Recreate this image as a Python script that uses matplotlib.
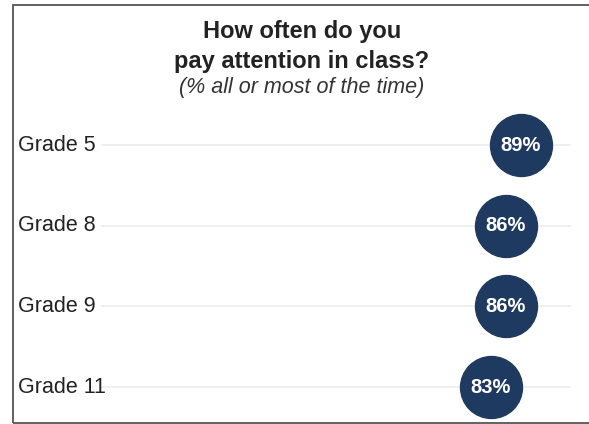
import matplotlib
matplotlib.use('Agg')
import matplotlib.pyplot as plt
from matplotlib.patches import Rectangle
from matplotlib.transforms import blended_transform_factory

plt.rcParams['font.family'] = ['Liberation Sans', 'DejaVu Sans']

# --- data ---
grades = ['Grade 5', 'Grade 8', 'Grade 9', 'Grade 11']
pct = [89, 86, 86, 83]

NAVY = '#1f3a60'
W, H = 589, 424
fig = plt.figure(figsize=(W / 100, H / 100), dpi=100)

# outer frame (right edge cut off in the reference)
fig.patches.append(Rectangle((13 / W, 1 / H), 1.2, (419 - 1) / H, transform=fig.transFigure,
                             fill=False, edgecolor='#555555', linewidth=1.3))

# axes: 0..100 maps to x px 76..576
ax = fig.add_axes([76 / W, 0, 500 / W, 324 / H])
ax.set_xlim(0, 100)
ax.set_ylim(3.458, -0.558)
ax.axis('off')

ys = list(range(len(grades)))
ax.hlines(ys, 5, 99, color='#eeeeee', linewidth=1.2, zorder=1)
ax.scatter(pct, ys, s=1990, color=NAVY, zorder=3, clip_on=False)
for y, v in zip(ys, pct):
    ax.text(v, y, f'{v}%', color='white', fontsize=14.5, fontweight='bold',
            ha='center', va='center', zorder=4)

tr = blended_transform_factory(fig.transFigure, ax.transData)
for y, g in zip(ys, grades):
    ax.text(18 / W, y, g, transform=tr, fontsize=15.5, color='#222222',
            ha='left', va='center')

# titles
fig.text(302 / W, 1 - 38 / H, 'How often do you', ha='center', va='baseline',
         fontsize=17, fontweight='bold', color='#222222')
fig.text(302 / W, 1 - 68 / H, 'pay attention in class?', ha='center', va='baseline',
         fontsize=17, fontweight='bold', color='#222222')
fig.text(302 / W, 1 - 93 / H, '(% all or most of the time)', ha='center', va='baseline',
         fontsize=15.5, fontstyle='italic', color='#333333')

fig.savefig('out.png', dpi=100)
